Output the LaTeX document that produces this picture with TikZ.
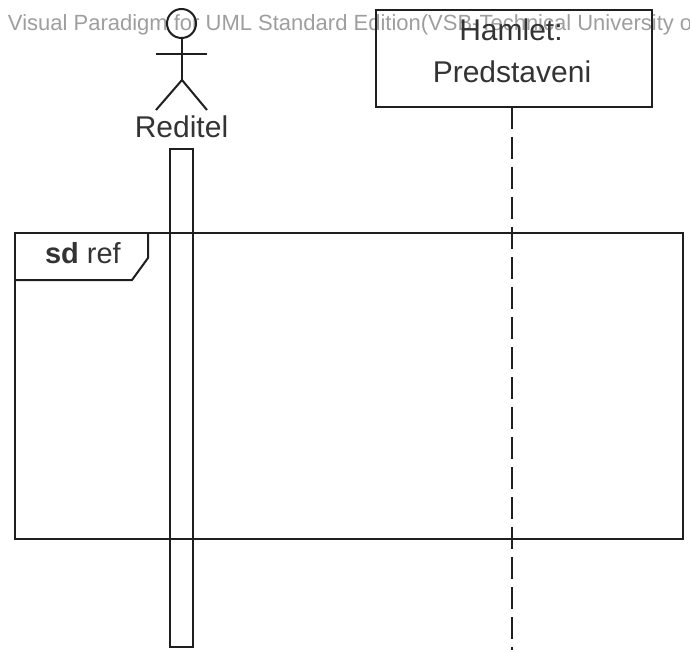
\documentclass[tikz,border=0pt]{standalone}
\usepackage{fontspec}
\setmainfont{Liberation Sans}
\definecolor{wm}{gray}{0.62}
\tikzset{
  umlline/.style={draw=black!88,line width=2pt},
  lbl/.style={inner sep=0pt,outer sep=0pt,text=black!80,font=\fontsize{30}{32}\selectfont},
  wmtext/.style={inner sep=0pt,outer sep=0pt,anchor=base west,text=wm,font=\fontsize{22}{24}\selectfont},
  lifeline/.style={umlline,dash pattern=on 22pt off 8pt},
}
\begin{document}
\begin{tikzpicture}[x=1pt,y=-1pt]
\useasboundingbox (0,0) rectangle (690,652);
\begin{scope}
\clip (0,0) rectangle (690,652);
\node[wmtext] (wmark) at (8,31) {Visual Paradigm for UML Standard Edition(VSB-Technical University of};
\end{scope}
% actor
\draw[umlline] (181.5,23.5) circle (14.5);
\coordinate (neck) at (182,38);
\coordinate (hip) at (182,80);
\coordinate (armL) at (156,54);
\coordinate (armR) at (207,54);
\coordinate (legL) at (156,110);
\coordinate (legR) at (207,110);
\draw[umlline] (neck) -- (hip);
\draw[umlline] (armL) -- (armR);
\draw[umlline] (legL) -- (hip) -- (legR);
\node[lbl,anchor=base] (actor) at (181.5,138) {Reditel};
% activation
\node[umlline,minimum width=22.5pt,minimum height=498pt,inner sep=0pt,outer sep=0pt] (act) at (181.5,398) {};
% lifeline box
\node[umlline,minimum width=276pt,minimum height=97pt,inner sep=0pt,outer sep=0pt] (obj) at (514,58.5) {};
\node[lbl,anchor=base] (hamlet) at (511,41) {Hamlet:};
\node[lbl,anchor=base] (pred) at (512,83) {Predstaveni};
\coordinate (lifeEnd) at (512,650);
\draw[lifeline] (obj.south -| lifeEnd) -- (lifeEnd);
% frame
\node[umlline,minimum width=668pt,minimum height=306pt,inner sep=0pt,outer sep=0pt] (frame) at (349,386) {};
\draw[umlline,line join=miter] (148,233) -- (148,258) -- (132,280) -- (15,280);
\node[lbl,anchor=base west,font=\fontsize{29}{31}\selectfont] (tab) at (45,263) {\textbf{sd} ref};
\end{tikzpicture}
\end{document}
